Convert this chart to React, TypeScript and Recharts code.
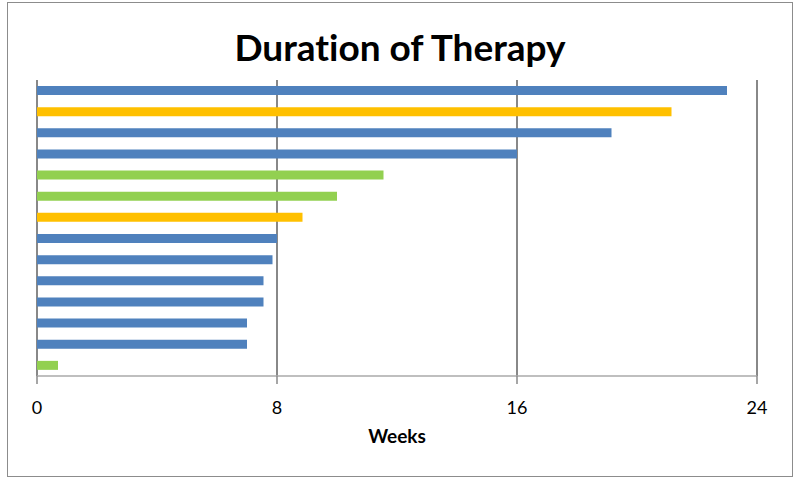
import { BarChart, Bar, XAxis, YAxis, CartesianGrid, Cell } from "recharts";

// one entry per bar, top to bottom
const patients = ["P1", "P2", "P3", "P4", "P5", "P6", "P7", "P8", "P9", "P10", "P11", "P12", "P13", "P14"];
const weeks = [23, 21.15, 19.15, 16, 11.55, 10, 8.85, 8, 7.85, 7.55, 7.55, 7, 7, 0.7];
const groups = ["A", "B", "A", "A", "C", "C", "B", "A", "A", "A", "A", "A", "A", "C"];
const xTicks = [0, 8, 16, 24];

const GROUP_COLORS: Record<string, string> = {
  A: "#4f81bd",
  B: "#ffc000",
  C: "#92d050",
};

const data = patients.map((name, i) => ({ name, weeks: weeks[i], group: groups[i] }));

export default function App() {
  return (
    <div
      style={{
        position: "absolute",
        left: 0,
        top: 0,
        width: 800,
        height: 485,
        background: "#fff",
        fontFamily: "Lato, 'Open Sans', sans-serif",
        fontVariantLigatures: "none",
      }}
    >
      <div
        style={{
          position: "absolute",
          left: 7,
          top: 2,
          width: 784,
          height: 473,
          border: "1.5px solid #8c8c8c",
        }}
      />
      <div
        style={{
          position: "absolute",
          top: 25,
          left: 0,
          width: 800,
          textAlign: "center",
          fontSize: 37,
          fontWeight: 700,
          lineHeight: "44px",
          color: "#000",
        }}
      >
        Duration of Therapy
      </div>
      <div style={{ position: "absolute", left: 0, top: 0 }}>
        <BarChart
          width={800}
          height={485}
          data={data}
          layout="vertical"
          margin={{ top: 80, right: 43, left: 37, bottom: 79 }}
          barCategoryGap={0}
        >
          <CartesianGrid horizontal={false} vertical stroke="#888" strokeWidth={2} />
          <XAxis
            type="number"
            dataKey="weeks"
            domain={[0, 24]}
            ticks={xTicks}
            height={30}
            axisLine={{ stroke: "#aaa", strokeWidth: 1.5 }}
            tickLine={{ stroke: "#888", strokeWidth: 1.5 }}
            tickSize={8}
            tickMargin={17}
            tick={{ fill: "#000", fontSize: 18 }}
            label={{
              value: "Weeks",
              position: "bottom",
              offset: 24,
              fill: "#000",
              fontSize: 19,
              fontWeight: 700,
            }}
          />
          <YAxis
            type="category"
            dataKey="name"
            hide
          />
          <Bar dataKey="weeks" barSize={9} isAnimationActive={false}>
            {data.map((d, i) => (
              <Cell key={i} fill={GROUP_COLORS[d.group]} />
            ))}
          </Bar>
        </BarChart>
      </div>
    </div>
  );
}
